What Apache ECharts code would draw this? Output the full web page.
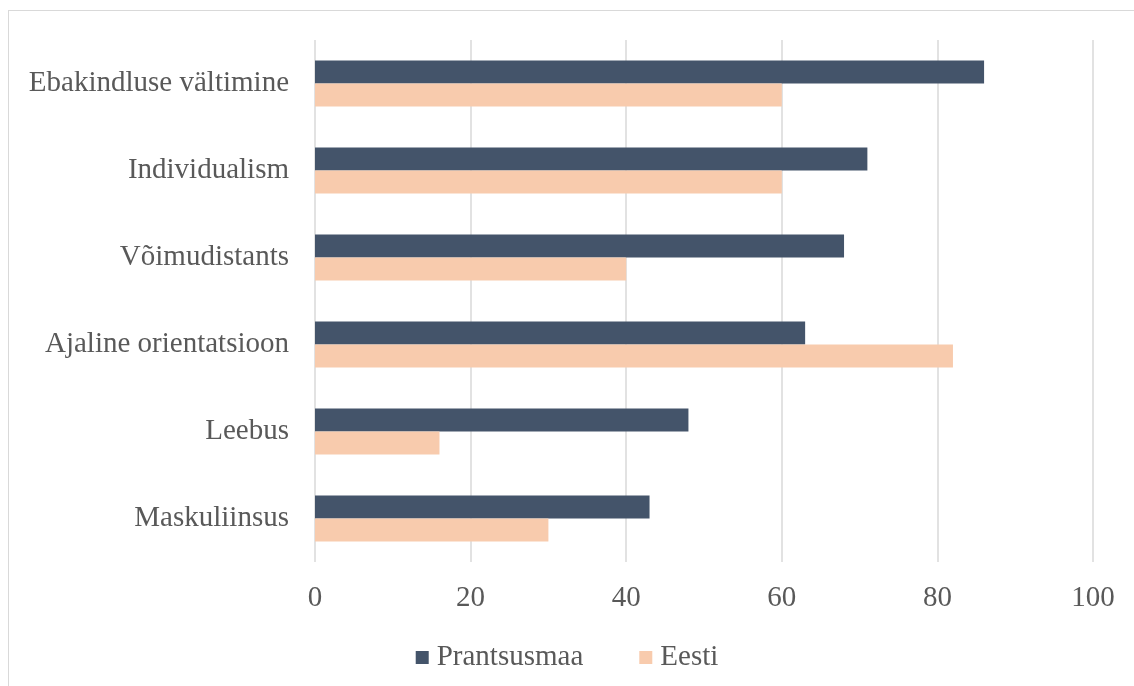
<!DOCTYPE html>
<html>
<head>
<meta charset="utf-8">
<script src="https://cdn.jsdelivr.net/npm/echarts@6/dist/echarts.min.js"></script>
<style>
  html, body { margin: 0; padding: 0; background: #ffffff; overflow: hidden; }
  #frame { position: absolute; left: 8px; top: 10px; width: 1300px; height: 900px; border: 1px solid #d9d9d9; box-sizing: border-box; }
  #chart { position: absolute; left: 0; top: 0; width: 1134px; height: 686px; }
</style>
</head>
<body>
<div id="frame"></div>
<div id="chart"></div>
<script>
// Hofstede dimensions, listed bottom to top
const categories = ['Maskuliinsus', 'Leebus', 'Ajaline orientatsioon', 'Võimudistants', 'Individualism', 'Ebakindluse vältimine'];
const prantsusmaa = [43, 48, 63, 68, 71, 86];
const eesti = [30, 16, 82, 40, 60, 60];
const xTicks = { min: 0, max: 100, interval: 20 };

const font = '"Liberation Serif", "Times New Roman", serif';
const textColor = '#595959';

const chart = echarts.init(document.getElementById('chart'), null, { renderer: 'canvas' });
chart.setOption({
  animation: false,
  backgroundColor: 'transparent',
  grid: { left: 315, right: 41, top: 40, bottom: 124, containLabel: false },
  legend: {
    top: 638,
    left: 'center',
    itemWidth: 13,
    itemHeight: 13,
    itemGap: 56,
    icon: 'rect',
    textStyle: { fontFamily: font, fontSize: 29, color: textColor, padding: [0, 0, 0, 3] },
    data: ['Prantsusmaa', 'Eesti']
  },
  xAxis: {
    type: 'value',
    min: xTicks.min,
    max: xTicks.max,
    interval: xTicks.interval,
    axisLine: { show: false },
    axisTick: { show: false },
    splitLine: { show: true, lineStyle: { color: '#d9d9d9', width: 1.5 } },
    axisLabel: { fontFamily: font, fontSize: 29, color: textColor, margin: 22 }
  },
  yAxis: {
    type: 'category',
    data: categories,
    axisLine: { show: false },
    axisTick: { show: false },
    axisLabel: { fontFamily: font, fontSize: 29, color: textColor, margin: 26, padding: [5, 0, 0, 0] }
  },
  series: [
    {
      name: 'Prantsusmaa',
      type: 'bar',
      data: prantsusmaa,
      barWidth: 23,
      barGap: '0%',
      itemStyle: { color: '#44546a' }
    },
    {
      name: 'Eesti',
      type: 'bar',
      data: eesti,
      barWidth: 23,
      barGap: '0%',
      itemStyle: { color: '#f8cbad' }
    }
  ]
});
</script>
</body>
</html>
